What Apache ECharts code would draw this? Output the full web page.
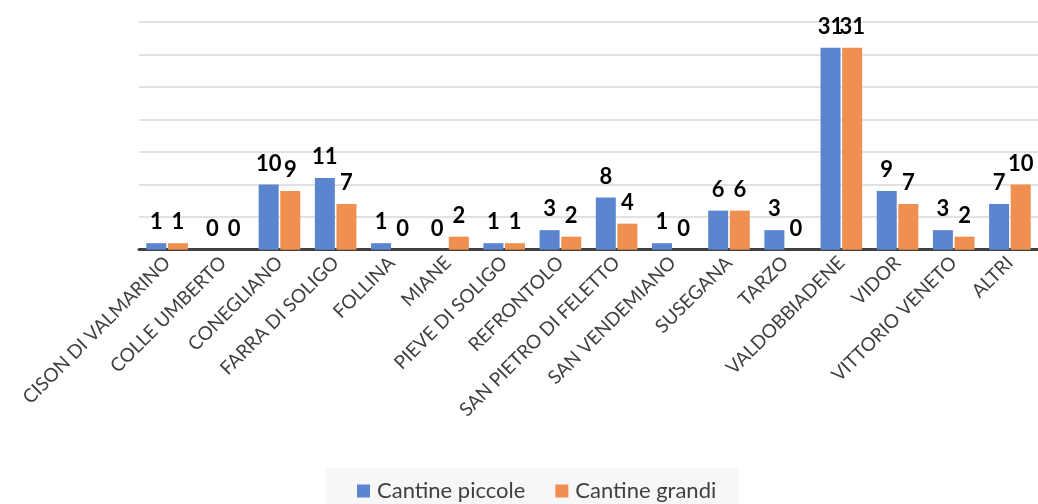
<!DOCTYPE html>
<html>
<head>
<meta charset="utf-8">
<style>
  html, body { margin: 0; padding: 0; background: #ffffff; }
  #chart { width: 1038px; height: 504px; }
</style>
<script src="https://cdn.jsdelivr.net/npm/echarts@6/dist/echarts.min.js"></script>
</head>
<body>
<div id="chart"></div>
<script>
// Comuni (categorie dell'asse X)
const comuni = [
  'CISON DI VALMARINO', 'COLLE UMBERTO', 'CONEGLIANO', 'FARRA DI SOLIGO',
  'FOLLINA', 'MIANE', 'PIEVE DI SOLIGO', 'REFRONTOLO',
  'SAN PIETRO DI FELETTO', 'SAN VENDEMIANO', 'SUSEGANA', 'TARZO',
  'VALDOBBIADENE', 'VIDOR', 'VITTORIO VENETO', 'ALTRI'
];

// Numero di cantine per comune
const cantinePiccole = [1, 0, 10, 11, 1, 0, 1, 3, 8, 1, 6, 3, 31, 9, 3, 7];
const cantineGrandi  = [1, 0, 9, 7, 0, 2, 1, 2, 4, 0, 6, 0, 31, 7, 2, 10];

const nomiSerie = ['Cantine piccole', 'Cantine grandi'];
const colori = ['#5b86cf', '#ef8f50'];

const fontTesto = 'Lato, sans-serif';

function serie(nome, dati, i) {
  return {
    name: nome,
    type: 'bar',
    data: dati,
    barWidth: 20,
    barGap: '8%',
    itemStyle: { color: colori[i] },
    label: {
      show: true,
      position: 'top',
      distance: 10,
      color: '#000000',
      fontFamily: fontTesto,
      fontWeight: 'bold',
      fontSize: 22
    }
  };
}

const chart = echarts.init(document.getElementById('chart'), null, { renderer: 'canvas' });
chart.setOption({
  animation: false,
  backgroundColor: '#ffffff',
  graphic: [{
    type: 'rect',
    z: -10,
    shape: { x: 326, y: 468, width: 413, height: 40 },
    style: { fill: '#f7f7f7' }
  }],
  legend: {
    data: nomiSerie,
    left: 357,
    top: 480,
    padding: 0,
    itemWidth: 13,
    itemHeight: 13,
    itemGap: 30,
    icon: 'rect',
    textStyle: { color: '#404040', fontSize: 22, fontFamily: fontTesto, padding: [0, 0, 0, 2] }
  },
  grid: { left: 139, top: 21.7, width: 907, height: 228, containLabel: false },
  xAxis: {
    type: 'category',
    data: comuni,
    axisTick: { show: false },
    axisLine: { lineStyle: { color: '#404040', width: 3 } },
    axisLabel: {
      interval: 0,
      rotate: 45,
      margin: 10,
      color: '#404040',
      fontSize: 19,
      fontFamily: fontTesto
    }
  },
  yAxis: {
    type: 'value',
    min: 0,
    max: 35,
    interval: 5,
    axisLabel: { show: false },
    axisLine: { show: false },
    axisTick: { show: false },
    splitLine: { lineStyle: { color: '#d9d9d9', width: 1.5 } }
  },
  series: [
    serie(nomiSerie[0], cantinePiccole, 0),
    serie(nomiSerie[1], cantineGrandi, 1)
  ]
});
</script>
</body>
</html>
